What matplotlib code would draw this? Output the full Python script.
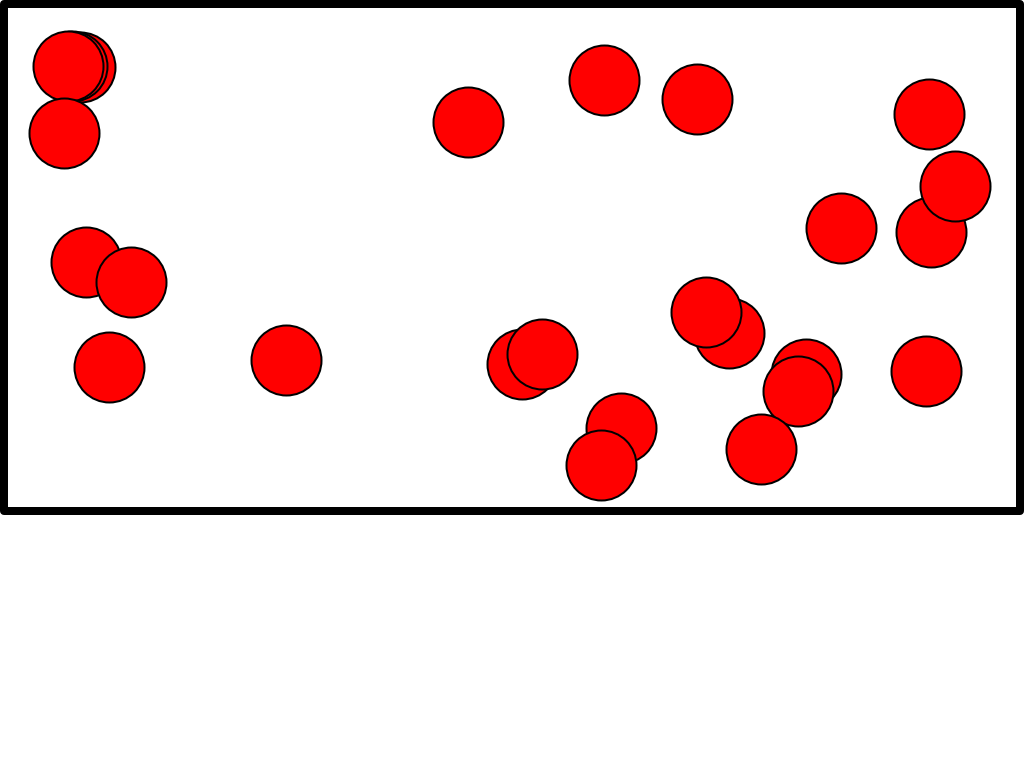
import matplotlib
matplotlib.use("Agg")
import matplotlib.pyplot as plt
from matplotlib.patches import Rectangle

# Point positions (data units: x in [0, 2], y in [0, 1]), in drawing order
x_vals = [0.1506, 0.1358, 0.1260, 0.1191, 0.1624, 0.2510, 0.2077, 0.5561,
          0.9144, 1.1821, 1.3652, 1.8219, 1.8258, 1.8740, 1.6486, 1.4272,
          1.3829, 1.0207, 1.0600, 1.2146, 1.1762, 1.5807, 1.5630, 1.4921,
          1.8169]
y_vals = [0.8749, 0.8768, 0.8768, 0.7448, 0.4906, 0.4512, 0.2837, 0.2975,
          0.7665, 0.8493, 0.8118, 0.7823, 0.5488, 0.6404, 0.5576, 0.3498,
          0.3931, 0.2897, 0.3094, 0.1626, 0.0897, 0.2690, 0.2365, 0.1222,
          0.2768]

fig = plt.figure(figsize=(10.24, 7.68), dpi=100)
ax = fig.add_axes([3.5 / 1024, (768 - 511) / 768, 1016 / 1024, 507.5 / 768])
ax.set_xlim(0, 2)
ax.set_ylim(0, 1)
ax.set_axis_off()

ax.scatter(x_vals, y_vals, s=2540, c="#ff0000", edgecolors="black",
           linewidths=1.44, clip_on=False, zorder=2)

ax.add_patch(Rectangle((0, 0), 1, 1, transform=ax.transAxes, fill=False,
                       edgecolor="black", linewidth=5.76, joinstyle="round",
                       clip_on=False, zorder=3))

fig.savefig("out.png", dpi=100)
